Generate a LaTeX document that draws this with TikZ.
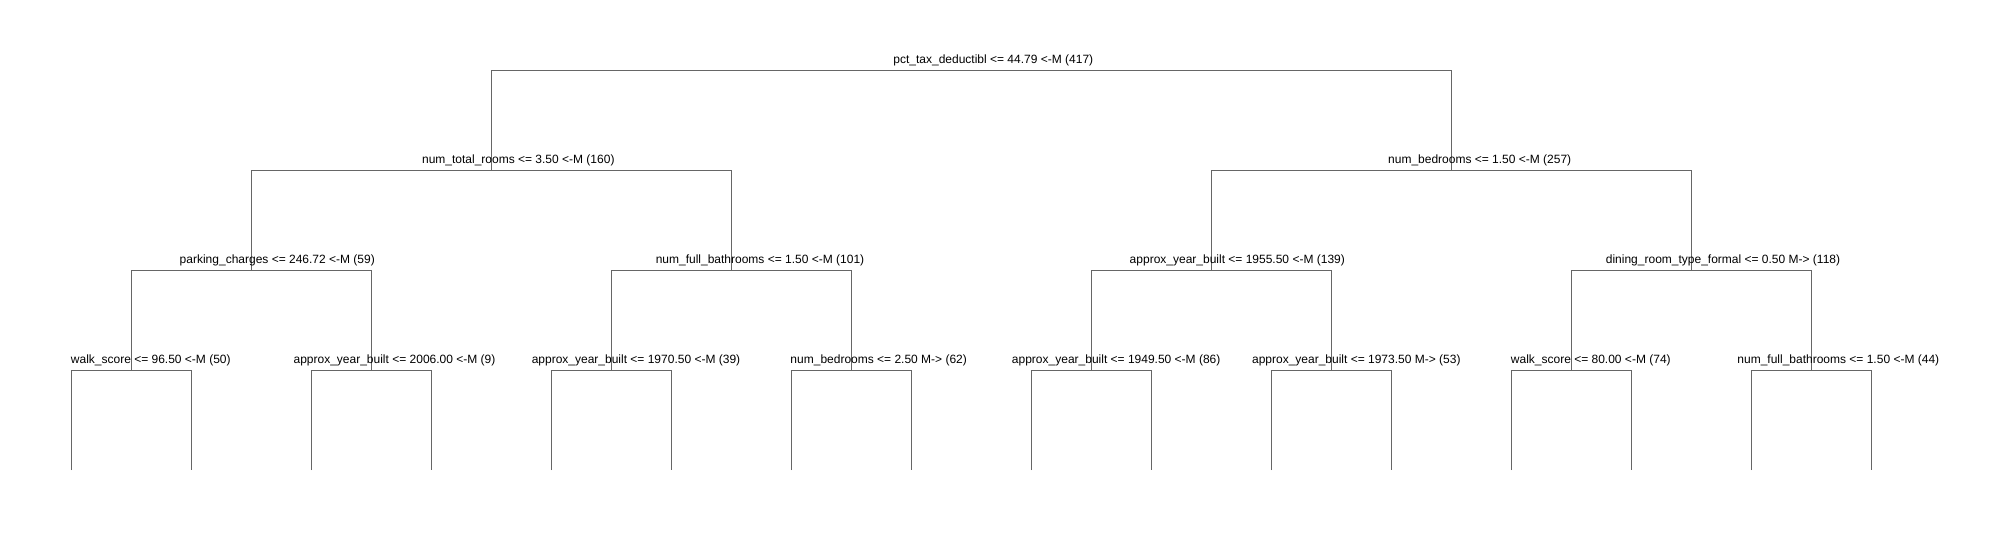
\documentclass[tikz,border=0pt]{standalone}
\usepackage{fontspec}
\setmainfont{Liberation Sans}
\begin{document}
\begin{tikzpicture}[x=1pt,y=-1pt,
  edge/.style={draw=black!60, line width=1pt},
  lab/.style={anchor=base, inner sep=0pt, font=\fontsize{12}{14}\selectfont, text=black}]
\useasboundingbox[fill=white] (0,0) rectangle (2010,540);
% tree nodes (split points)
\coordinate (n1) at (971.3,70.3);
\coordinate (n2) at (491.3,170.3);
\coordinate (n3) at (1451.3,170.3);
\foreach \i/\x in {4/251.3,5/731.3,6/1211.3,7/1691.3}{\coordinate (n\i) at (\x,270.3);}
\foreach \i/\x in {8/131.3,9/371.3,10/611.3,11/851.3,12/1091.3,13/1331.3,14/1571.3,15/1811.3}{\coordinate (n\i) at (\x,370.3);}
\foreach \i in {1,...,16}{\coordinate (l\i) at ({71.3+120*(\i-1)},470);}
% connectors
\draw[edge] (n2) |- (n1) -| (n3);
\draw[edge] (n4) |- (n2) -| (n5);
\draw[edge] (n6) |- (n3) -| (n7);
\draw[edge] (n8) |- (n4) -| (n9);
\draw[edge] (n10) |- (n5) -| (n11);
\draw[edge] (n12) |- (n6) -| (n13);
\draw[edge] (n14) |- (n7) -| (n15);
\draw[edge] (l1) |- (n8) -| (l2);
\draw[edge] (l3) |- (n9) -| (l4);
\draw[edge] (l5) |- (n10) -| (l6);
\draw[edge] (l7) |- (n11) -| (l8);
\draw[edge] (l9) |- (n12) -| (l10);
\draw[edge] (l11) |- (n13) -| (l12);
\draw[edge] (l13) |- (n14) -| (l14);
\draw[edge] (l15) |- (n15) -| (l16);
% labels
\node[lab] (t1) at (993.3,63.3) {pct\_tax\_deductibl <= 44.79 <-M (417)};
\node[lab] (t2) at (518.3,163.3) {num\_total\_rooms <= 3.50 <-M (160)};
\node[lab] (t3) at (1479.7,163.3) {num\_bedrooms <= 1.50 <-M (257)};
\node[lab] (t4) at (277.3,263.3) {parking\_charges <= 246.72 <-M (59)};
\node[lab] (t5) at (760.0,263.3) {num\_full\_bathrooms <= 1.50 <-M (101)};
\node[lab] (t6) at (1237.3,263.3) {approx\_year\_built <= 1955.50 <-M (139)};
\node[lab] (t7) at (1723.0,263.3) {dining\_room\_type\_formal <= 0.50 M-> (118)};
\node[lab] (t8) at (150.8,363.3) {walk\_score <= 96.50 <-M (50)};
\node[lab] (t9) at (394.5,363.3) {approx\_year\_built <= 2006.00 <-M (9)};
\node[lab] (t10) at (636.0,363.3) {approx\_year\_built <= 1970.50 <-M (39)};
\node[lab] (t11) at (878.7,363.3) {num\_bedrooms <= 2.50 M-> (62)};
\node[lab] (t12) at (1116.2,363.3) {approx\_year\_built <= 1949.50 <-M (86)};
\node[lab] (t13) at (1356.3,363.3) {approx\_year\_built <= 1973.50 M-> (53)};
\node[lab] (t14) at (1590.8,363.3) {walk\_score <= 80.00 <-M (74)};
\node[lab] (t15) at (1838.3,363.3) {num\_full\_bathrooms <= 1.50 <-M (44)};
\end{tikzpicture}
\end{document}
